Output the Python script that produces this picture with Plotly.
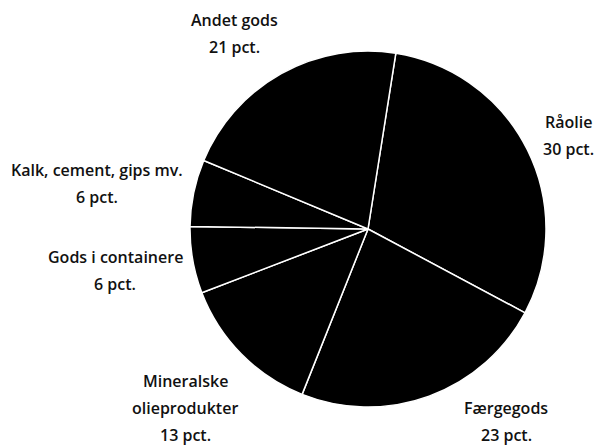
import plotly.graph_objects as go

categories = ["Råolie", "Færgegods", "Mineralske olieprodukter", "Gods i containere",
              "Kalk, cement, gips mv.", "Andet gods"]
values = [30, 23, 13, 6, 6, 21]
label_lines = [["Råolie"], ["Færgegods"], ["Mineralske", "olieprodukter"],
               ["Gods i containere"], ["Kalk, cement, gips mv."], ["Andet gods"]]
# label centre positions in window pixels (x, y of first line), line spacing in px
label_pos = [(568, 122), (506, 408), (185, 381), (115, 257), (97, 170), (234, 20)]
line_gap = 27

W, H = 599, 445
cx, cy, r = 368, 229, 178

fig = go.Figure(go.Pie(
    labels=categories, values=values, sort=False, direction="clockwise",
    rotation=9, textinfo="none", hoverinfo="label+percent",
    marker=dict(colors=["#000000"] * len(values), line=dict(color="#ffffff", width=1.5)),
    domain=dict(x=[(cx - r) / W, (cx + r) / W], y=[1 - (cy + r) / H, 1 - (cy - r) / H]),
    showlegend=False,
))

font = dict(family="Open Sans", size=16, color="#111111", weight=600)
for lines, v, (px, py) in zip(label_lines, values, label_pos):
    allines = lines + [f"{v} pct."]
    for i, t in enumerate(allines):
        fig.add_annotation(x=px / W, y=1 - (py + i * line_gap) / H,
                           xref="paper", yref="paper",
                           text=t, showarrow=False, xanchor="center", yanchor="middle", font=font)

fig.update_layout(width=W, height=H, margin=dict(l=0, r=0, t=0, b=0),
                  paper_bgcolor="white", plot_bgcolor="white")
fig.write_html("out.html", config={"displayModeBar": False},
               post_script="document.body.style.margin='0';document.body.style.overflow='hidden';")
